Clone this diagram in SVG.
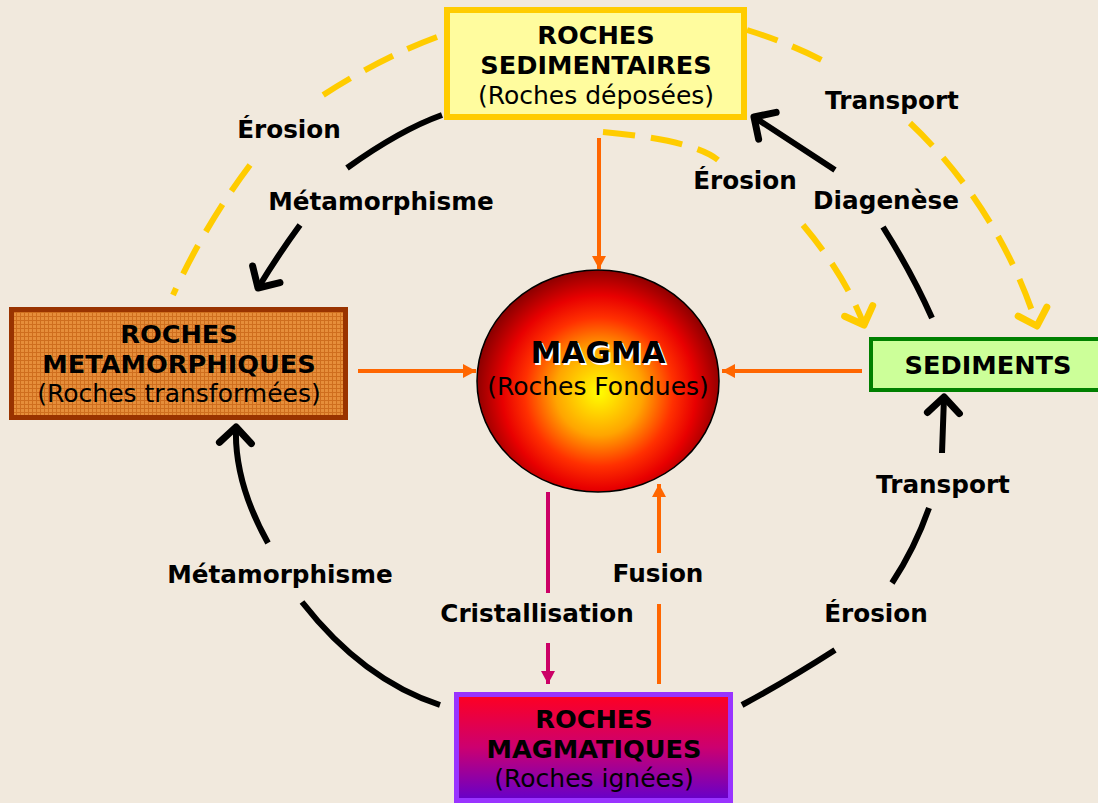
<svg xmlns="http://www.w3.org/2000/svg" width="1098" height="803" viewBox="0 0 1098 803">
<defs>
<style>
.t{font-family:"DejaVu Sans","Liberation Sans",sans-serif;font-size:25px;fill:#000;text-anchor:middle}
.b{font-weight:bold;font-size:25.6px}
.lbl{font-family:"DejaVu Sans","Liberation Sans",sans-serif;font-size:24.7px;font-weight:bold;fill:#000;text-anchor:middle}
.blk{fill:none;stroke:#000;stroke-width:6;stroke-linecap:butt}
.yel{fill:none;stroke:#FFCC00;stroke-width:6;stroke-dasharray:32 16}
.org{fill:none;stroke:#FF6600;stroke-width:4}
.mag{fill:none;stroke:#CC0066;stroke-width:4}
</style>
<marker id="chevK" markerUnits="userSpaceOnUse" viewBox="-22 -22 26 44" markerWidth="26" markerHeight="44" refX="0" refY="0" orient="auto" overflow="visible">
<path d="M-16,-16 L0,0 L-16,16" fill="none" stroke="#000" stroke-width="7" stroke-linecap="round" stroke-linejoin="round"/>
</marker>
<marker id="chevY" markerUnits="userSpaceOnUse" viewBox="-22 -22 26 44" markerWidth="26" markerHeight="44" refX="0" refY="0" orient="auto" overflow="visible">
<path d="M-15,-15 L0,0 L-15,15" fill="none" stroke="#FFCC00" stroke-width="7" stroke-linecap="round" stroke-linejoin="round"/>
</marker>
<marker id="triO" markerUnits="userSpaceOnUse" viewBox="-14 -8 16 16" markerWidth="16" markerHeight="16" refX="0" refY="0" orient="auto" overflow="visible">
<path d="M-13,-7 L0,0 L-13,7 Z" fill="#FF6600"/>
</marker>
<marker id="triM" markerUnits="userSpaceOnUse" viewBox="-14 -8 16 16" markerWidth="16" markerHeight="16" refX="0" refY="0" orient="auto" overflow="visible">
<path d="M-13,-7 L0,0 L-13,7 Z" fill="#CC0066"/>
</marker>
<pattern id="grid" width="4" height="4" patternUnits="userSpaceOnUse">
<rect width="4" height="4" fill="#E68E3A"/>
<path d="M0,0.5 H4 M0.5,0 V4" stroke="#CF6E1E" stroke-width="1"/>
</pattern>
<radialGradient id="magmaG" cx="599" cy="392" r="124" gradientUnits="userSpaceOnUse">
<stop offset="0" stop-color="#FFFF00"/>
<stop offset="0.35" stop-color="#FFA500"/>
<stop offset="0.6" stop-color="#FF3000"/>
<stop offset="0.78" stop-color="#E80000"/>
<stop offset="1" stop-color="#8A0000"/>
</radialGradient>
<linearGradient id="magG" x1="0" y1="0" x2="0" y2="1">
<stop offset="0" stop-color="#FF0020"/>
<stop offset="0.5" stop-color="#CC0070"/>
<stop offset="1" stop-color="#6400CC"/>
</linearGradient>
</defs>
<rect width="1098" height="803" fill="#F1E9DD"/>

<g id="connectors">
<path class="yel" d="M437,37 Q380,58 320,97 M250,165 Q205,225 173,295"/>
<path class="yel" d="M747,30 Q795,45 835,67 M910,123 C960,170 1010,240 1037,326" marker-end="url(#chevY)"/>
<path class="yel" d="M603,132 Q693,140 718,160 M803,225 Q845,275 864,325" marker-end="url(#chevY)"/>
<path class="blk" d="M442,115 Q400,130 347,168 M300,225 Q278,255 258,288" marker-end="url(#chevK)"/>
<path class="blk" d="M440,705 Q363,680 302,602 M268,543 Q234,482 236,427" marker-end="url(#chevK)"/>
<path class="blk" d="M742,705 Q785,682 835,650 M892,583 Q915,548 929,508 M942,453 L944,397" marker-end="url(#chevK)"/>
<path class="blk" d="M932,318 Q912,273 883,227 M835,170 L754,117" marker-end="url(#chevK)"/>
<path class="org" d="M599,138 L599,269" marker-end="url(#triO)"/>
<path class="org" d="M358,371 L476,371" marker-end="url(#triO)"/>
<path class="org" d="M862,371 L722,371" marker-end="url(#triO)"/>
<path class="org" d="M659,684 L659,604 M659,553 L659,484" marker-end="url(#triO)"/>
<path class="mag" d="M548,492 L548,593 M548,643 L548,684" marker-end="url(#triM)"/>
<text class="lbl" x="289" y="138">Érosion</text>
<text class="lbl" x="381" y="210">Métamorphisme</text>
<text class="lbl" x="892" y="109">Transport</text>
<text class="lbl" x="745" y="189">Érosion</text>
<text class="lbl" x="886" y="209">Diagenèse</text>
<text class="lbl" x="943" y="493">Transport</text>
<text class="lbl" x="876" y="622">Érosion</text>
<text class="lbl" x="280" y="583">Métamorphisme</text>
<text class="lbl" x="537" y="622">Cristallisation</text>
<text class="lbl" x="658" y="582">Fusion</text>
</g>

<g id="sedimentaires">
<rect x="447" y="10" width="297" height="107" fill="#FFFC9E" stroke="#FFCC00" stroke-width="6"/>
<text class="t b" x="596" y="44">ROCHES</text>
<text class="t b" x="596" y="74">SEDIMENTAIRES</text>
<text class="t" x="596" y="104">(Roches déposées)</text>
</g>

<g id="metamorphiques">
<rect x="11.5" y="309.5" width="334" height="108" fill="url(#grid)" stroke="#993300" stroke-width="5"/>
<text class="t b" x="179" y="343">ROCHES</text>
<text class="t b" x="179" y="373">METAMORPHIQUES</text>
<text class="t" x="179" y="402">(Roches transformées)</text>
</g>

<g id="sediments">
<rect x="871" y="339" width="240" height="51" fill="#CCFF99" stroke="#008000" stroke-width="4"/>
<text class="t b" x="988" y="374">SEDIMENTS</text>
</g>

<g id="magmatiques">
<rect x="456.5" y="694.5" width="274" height="106" fill="url(#magG)" stroke="#9933FF" stroke-width="5"/>
<text class="t b" x="594" y="728">ROCHES</text>
<text class="t b" x="594" y="758">MAGMATIQUES</text>
<text class="t" x="594" y="787">(Roches ignées)</text>
</g>

<g id="magma">
<ellipse cx="598" cy="381" rx="121" ry="111" fill="url(#magmaG)" stroke="#000" stroke-width="1.5"/>
<text class="t b" x="600" y="365" style="font-size:31px;fill:#fff">MAGMA</text>
<text class="t b" x="598" y="363" style="font-size:31px">MAGMA</text>
<text class="t" x="598" y="395">(Roches Fondues)</text>
</g>
</svg>
